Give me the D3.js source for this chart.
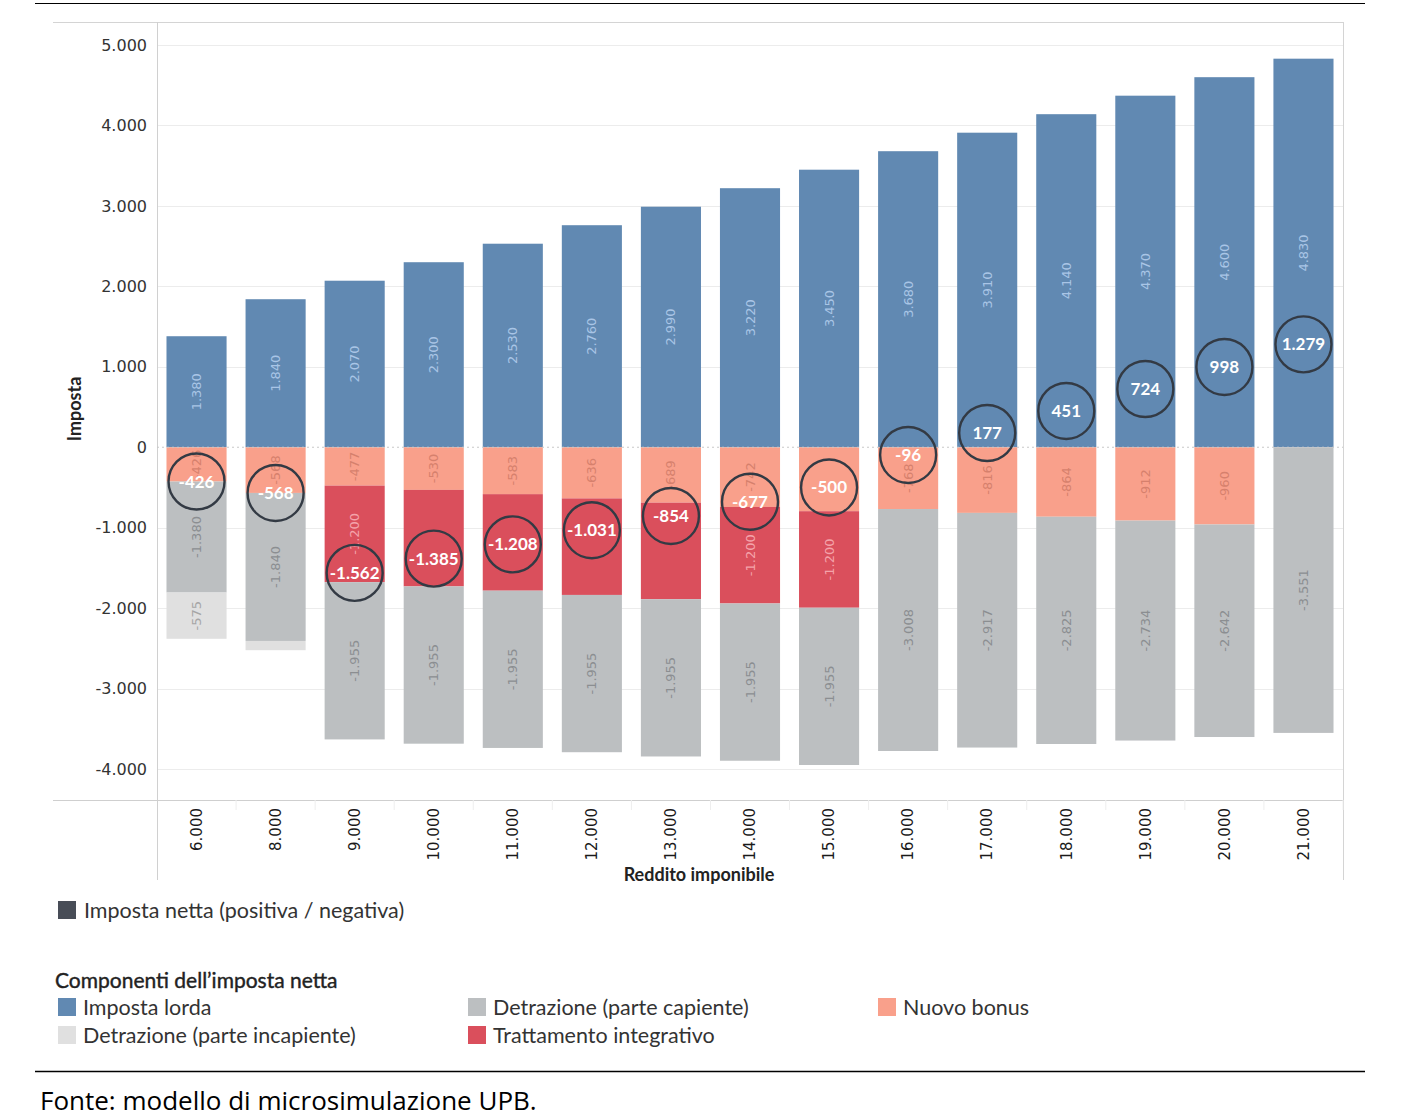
<!DOCTYPE html>
<html><head><meta charset="utf-8">
<script src="https://cdn.jsdelivr.net/npm/d3@7"></script>
<style>
body{margin:0;background:#fff;}
svg{display:block;}
</style></head>
<body><svg id="chart" width="1402" height="1120"></svg>
<script>
const categories = [6000, 8000, 9000, 10000, 11000, 12000, 13000, 14000, 15000, 16000, 17000, 18000, 19000, 20000, 21000];
const impostaLorda = [1380, 1840, 2070, 2300, 2530, 2760, 2990, 3220, 3450, 3680, 3910, 4140, 4370, 4600, 4830];
const nuovoBonus = [-426, -568, -477, -530, -583, -636, -689, -742, -795, -768, -816, -864, -912, -960, 0];
const trattamentoIntegrativo = [0, 0, -1200, -1200, -1200, -1200, -1200, -1200, -1200, 0, 0, 0, 0, 0, 0];
const detrazioneCapiente = [-1380, -1840, -1955, -1955, -1955, -1955, -1955, -1955, -1955, -3008, -2917, -2825, -2734, -2642, -3551];
const detrazioneIncapiente = [-575, -115, 0, 0, 0, 0, 0, 0, 0, 0, 0, 0, 0, 0, 0];
const impostaNetta = [-426, -568, -1562, -1385, -1208, -1031, -854, -677, -500, -96, 177, 451, 724, 998, 1279];
const yTicks = [5000, 4000, 3000, 2000, 1000, 0, -1000, -2000, -3000, -4000];

const series = [
  {name: "Imposta lorda", values: impostaLorda, fill: "#6189b2", text: "#a9c5e6", clash: 12},
  {name: "Nuovo bonus", values: nuovoBonus, fill: "#f9a08b", text: "#d6806d", clash: 12},
  {name: "Trattamento integrativo", values: trattamentoIntegrativo, fill: "#da4f5c", text: "#f4a3aa", clash: 37},
  {name: "Detrazione (parte capiente)", values: detrazioneCapiente, fill: "#bcbfc1", text: "#8b8e91", clash: 12},
  {name: "Detrazione (parte incapiente)", values: detrazioneIncapiente, fill: "#e0e0e0", text: "#a6a6a6", clash: 12}
];

const loc = d3.formatLocale({decimal: ",", thousands: ".", grouping: [3], currency: ["€", ""], minus: "-"});
const fmt = loc.format(",d");

const svg = d3.select("#chart");
const L = 157, R = 1343, T = 22, B = 800;
const x = d3.scaleBand().domain(categories).range([L, R]).paddingInner(0.24).paddingOuter(0.12);
const y = d3.scaleLinear().domain([-4385, 5286]).range([B, T]);

// top rule
svg.append("line").attr("x1", 35).attr("x2", 1365).attr("y1", 3.5).attr("y2", 3.5).attr("stroke", "#000").attr("stroke-width", 1.2);

// gridlines
svg.append("g").selectAll("line").data(yTicks.filter(d => d !== 0)).join("line")
  .attr("x1", L).attr("x2", R).attr("y1", d => Math.round(y(d)) + 0.5).attr("y2", d => Math.round(y(d)) + 0.5)
  .attr("stroke", "#ececec").attr("stroke-width", 1);

// frame
svg.append("line").attr("x1", 53).attr("x2", R).attr("y1", T + 0.5).attr("y2", T + 0.5).attr("stroke", "#d4d4d4");
svg.append("line").attr("x1", L + 0.5).attr("x2", L + 0.5).attr("y1", T).attr("y2", 880).attr("stroke", "#d0d0d0");
svg.append("line").attr("x1", R + 0.5).attr("x2", R + 0.5).attr("y1", T).attr("y2", 880).attr("stroke", "#d4d4d4");
svg.append("line").attr("x1", 53).attr("x2", R).attr("y1", B + 0.5).attr("y2", B + 0.5).attr("stroke", "#cfcfcf");

// stacked segments
const segs = [];
categories.forEach((c, i) => {
  let pos = 0, neg = 0;
  series.forEach(s => {
    const v = s.values[i];
    if (!v) return;
    let y0, y1;
    if (v > 0) { y0 = pos; y1 = pos + v; pos = y1; }
    else { y0 = neg; y1 = neg + v; neg = y1; }
    segs.push({c, i, v, y0, y1, s});
  });
});

const gBars = svg.append("g");
gBars.selectAll("rect").data(segs).join("rect")
  .attr("x", d => x(d.c)).attr("width", x.bandwidth())
  .attr("y", d => y(Math.max(d.y0, d.y1))).attr("height", d => Math.abs(y(d.y0) - y(d.y1)))
  .attr("fill", d => d.s.fill);

// zero line dotted
svg.append("line").attr("x1", L).attr("x2", R).attr("y1", y(0)).attr("y2", y(0))
  .attr("stroke", "#c8c8c8").attr("stroke-dasharray", "2,3").attr("stroke-width", 1);

// segment labels (hidden when too small or clashing with the net label)
const shown = segs.filter(d => {
  const h = Math.abs(y(d.y0) - y(d.y1));
  const dist = Math.abs(y((d.y0 + d.y1) / 2) - y(impostaNetta[d.i]));
  return h > 30 && dist >= d.s.clash;
});
gBars.selectAll("text").data(shown).join("text")
  .attr("transform", d => `translate(${x(d.c) + x.bandwidth() / 2 + 4.5},${y((d.y0 + d.y1) / 2)}) rotate(-90)`)
  .attr("text-anchor", "middle")
  .attr("font-family", "DejaVu Sans, sans-serif").attr("font-size", 13)
  .attr("fill", d => d.s.text)
  .text(d => fmt(d.v));

// net circles
const gNet = svg.append("g");
gNet.selectAll("circle").data(categories).join("circle")
  .attr("cx", (c) => x(c) + x.bandwidth() / 2)
  .attr("cy", (c, i) => y(impostaNetta[i]))
  .attr("r", 28).attr("fill", "none").attr("stroke", "#333a44").attr("stroke-width", 2.4);
gNet.selectAll("text").data(categories).join("text")
  .attr("x", c => x(c) + x.bandwidth() / 2)
  .attr("y", (c, i) => y(impostaNetta[i]) + 6)
  .attr("text-anchor", "middle")
  .attr("font-family", "Lato, sans-serif").attr("font-weight", "bold").attr("font-size", 17)
  .attr("fill", "#fff")
  .text((c, i) => fmt(impostaNetta[i]));

// y axis
const yAxis = d3.axisLeft(y).tickValues(yTicks).tickFormat(fmt).tickSize(0).tickPadding(10);
const gy = svg.append("g").attr("transform", `translate(${L},0)`).call(yAxis);
gy.select(".domain").remove();
gy.selectAll("text").attr("font-family", "DejaVu Sans, sans-serif").attr("font-size", 16).attr("fill", "#333");

svg.append("text").attr("transform", `translate(81,409) rotate(-90)`).attr("text-anchor", "middle")
  .attr("font-family", "Lato, sans-serif").attr("font-weight", "bold").attr("font-size", 18).attr("fill", "#222")
  .text("Imposta");

// x axis
const xAxis = d3.axisBottom(x).tickFormat(fmt).tickSize(0);
const gx = svg.append("g").attr("transform", `translate(0,${B})`).call(xAxis);
gx.select(".domain").remove();
gx.selectAll("text")
  .attr("transform", "rotate(-90)").attr("text-anchor", "end").attr("x", -8).attr("y", 0).attr("dy", "0.35em")
  .attr("font-family", "DejaVu Sans, sans-serif").attr("font-size", 15).attr("fill", "#1a1a1a");
gx.selectAll(".tick").append("line").attr("x1", x.step() / 2).attr("x2", x.step() / 2).attr("y1", 0).attr("y2", 10).attr("stroke", "#eee");

svg.append("text").attr("x", 699).attr("y", 881).attr("text-anchor", "middle")
  .attr("font-family", "Lato, sans-serif").attr("font-weight", "bold").attr("font-size", 18).attr("fill", "#222")
  .text("Reddito imponibile");

// legends
const lf = "Lato, sans-serif";
svg.append("rect").attr("x", 58).attr("y", 901).attr("width", 18).attr("height", 18).attr("fill", "#484d57");
svg.append("text").attr("x", 84).attr("y", 918).attr("font-family", lf).attr("font-size", 21.5).attr("fill", "#333")
  .text("Imposta netta (positiva / negativa)");

svg.append("text").attr("x", 55).attr("y", 988).attr("font-family", lf).attr("font-size", 21).attr("fill", "#222")
  .attr("stroke", "#222").attr("stroke-width", 0.4)
  .text("Componenti dell’imposta netta");

const legendItems = [
  {s: series[0], lx: 58, ly: 998},
  {s: series[3], lx: 468, ly: 998},
  {s: series[1], lx: 878, ly: 998},
  {s: series[4], lx: 58, ly: 1026},
  {s: series[2], lx: 468, ly: 1026}
];
const gl = svg.append("g");
legendItems.forEach(d => {
  gl.append("rect").attr("x", d.lx).attr("y", d.ly).attr("width", 18).attr("height", 18).attr("fill", d.s.fill);
  gl.append("text").attr("x", d.lx + 25).attr("y", d.ly + 17).attr("font-family", lf).attr("font-size", 21.5).attr("fill", "#333").text(d.s.name);
});

svg.append("line").attr("x1", 35).attr("x2", 1365).attr("y1", 1071.5).attr("y2", 1071.5).attr("stroke", "#000").attr("stroke-width", 1.5);
svg.append("text").attr("x", 40).attr("y", 1110).attr("font-family", "Open Sans, sans-serif").attr("font-size", 26).attr("fill", "#000")
  .text("Fonte: modello di microsimulazione UPB.");
</script></body></html>
